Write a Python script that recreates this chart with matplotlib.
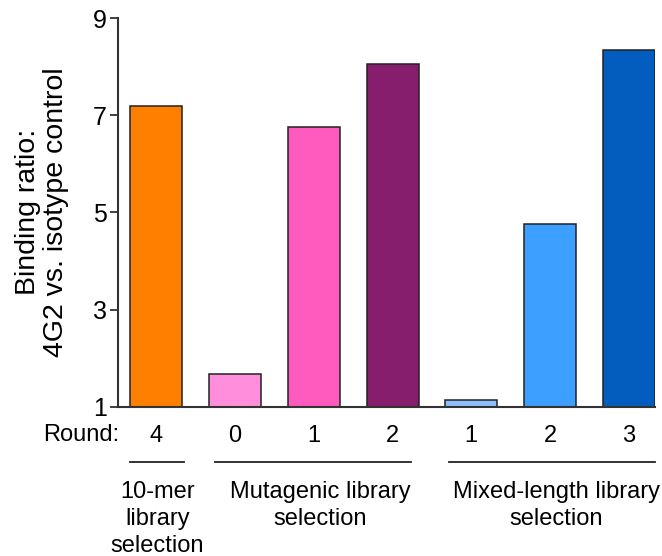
import matplotlib
matplotlib.use("Agg")
import matplotlib.pyplot as plt
import matplotlib.transforms as mtransforms

plt.rcParams['font.family'] = ['Liberation Sans', 'DejaVu Sans']

# data
rounds = ['4', '0', '1', '2', '1', '2', '3']
ratios = [7.19, 1.68, 6.75, 8.05, 1.14, 4.76, 8.35]
colors = ['#FF8000', '#FF8FDC', '#FF5BBE', '#861D6D', '#8FBEFF', '#3D9FFF', '#035DBE']
groups = ['10-mer\nlibrary\nselection', 'Mutagenic library\nselection',
          'Mixed-length library\nselection']
group_bars = [(0, 0), (1, 3), (4, 6)]

fig = plt.figure(figsize=(6.62, 5.56), dpi=100)
ax = fig.add_axes([0.178, 0.2685, 0.811, 0.6991])

x = range(len(ratios))
ax.bar(x, [r - 1 for r in ratios], bottom=1, width=0.66, color=colors,
       edgecolor='#222222', linewidth=1.1)

ax.set_xlim(-0.49, 6.33)
ax.set_ylim(1, 9)
ax.set_yticks([1, 3, 5, 7, 9])
ax.tick_params(axis='y', labelsize=18, length=6, width=1.3, color='#333333', pad=2)
ax.set_xticks(list(x))
ax.set_xticklabels(rounds, fontsize=17)
ax.tick_params(axis='x', length=0, pad=13)

for s in ['top', 'right']:
    ax.spines[s].set_visible(False)
for s in ['left', 'bottom']:
    ax.spines[s].set_linewidth(1.5)
    ax.spines[s].set_color('#333333')

ax.set_ylabel('Binding ratio:\n4G2 vs. isotype control', fontsize=20.5,
              linespacing=1.1, labelpad=17)

trans = mtransforms.blended_transform_factory(ax.transData, ax.transAxes)
ax.text(-0.47, -0.073, 'Round:', transform=trans, fontsize=17,
        ha='right', va='center')

pads = [(0.34, 0.35), (0.25, 0.24), (0.28, 0.33)]
shifts = [0.01, 0.08, 0.08]
for (a, b), (pl, pr), dx, name in zip(group_bars, pads, shifts, groups):
    ax.plot([a - pl, b + pr], [-0.143, -0.143], transform=trans, color='#222222',
            linewidth=1.3, clip_on=False)
    ax.text((a + b) / 2 + dx, -0.19, name, transform=trans, fontsize=17,
            ha='center', va='top', linespacing=1.32)

fig.savefig('out.png', dpi=100)
